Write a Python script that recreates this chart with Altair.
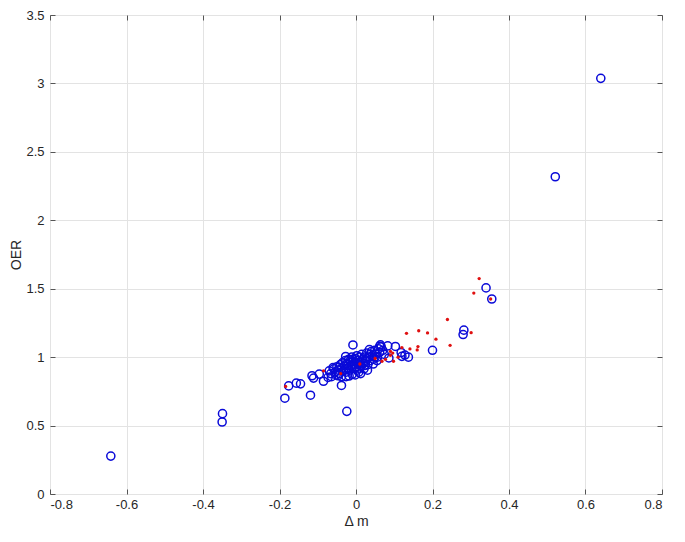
import altair as alt
import pandas as pd

# Blue open circles (Δm, OER)
blue_dm = [-0.641, -0.349, -0.350, -0.186, -0.176, -0.156, -0.145, -0.119, -0.115, -0.111,
           -0.096, -0.085, -0.073, -0.064, -0.060, -0.047, -0.038, -0.038, -0.026, -0.024,
           -0.008,
           -0.070, -0.066, -0.058, -0.054, -0.050, -0.046, -0.043, -0.041, -0.038, -0.035,
           -0.033, -0.030, -0.028, -0.026, -0.024, -0.021, -0.019, -0.017, -0.015, -0.013,
           -0.011, -0.010, -0.008, -0.006, -0.004, -0.002, 0.000, 0.001, 0.002, 0.004,
           0.006, 0.007, 0.009, 0.011, 0.013, 0.015, 0.017, 0.019, 0.021, 0.023,
           0.026, 0.028, 0.031, 0.034, 0.037, 0.040, 0.043, 0.046, 0.049, 0.052,
           0.056, 0.059, 0.062, 0.066, 0.070, 0.074, -0.002, -0.018, 0.012, 0.030,
           0.045, 0.055,
           -0.052, -0.044, -0.031, -0.020, -0.009, 0.003, 0.016, 0.027, 0.038, 0.050,
           0.008, -0.014, 0.024, 0.035, -0.027, 0.064,
           0.062, 0.083, 0.103, 0.086, 0.118, 0.120, 0.137, 0.128, 0.200, 0.282,
           0.280, 0.340, 0.355, 0.521, 0.640]
blue_oer = [0.277, 0.587, 0.526, 0.700, 0.790, 0.810, 0.805, 0.722, 0.864, 0.847,
            0.876, 0.824, 0.852, 0.857, 0.923, 0.864, 0.857, 0.793, 0.857, 0.604,
            1.089,
            0.900, 0.880, 0.915, 0.893, 0.930, 0.905, 0.880, 0.945, 0.915, 0.960,
            0.898, 0.935, 0.975, 0.890, 0.950, 0.920, 0.985, 0.905, 0.960, 0.935,
            1.000, 0.875, 0.970, 0.945, 0.915, 0.990, 0.960, 0.930, 1.010, 0.975,
            0.950, 0.890, 1.000, 0.965, 0.935, 1.020, 0.985, 0.955, 0.915, 1.000,
            0.970, 1.030, 0.945, 1.000, 0.975, 1.040, 1.010, 0.985, 1.050, 1.020,
            1.000, 1.060, 1.035, 1.075, 1.050, 1.020, 0.870, 0.862, 0.880, 0.905,
            0.950, 0.975,
            0.870, 0.925, 0.910, 0.945, 0.985, 0.905, 0.960, 0.990, 1.020, 1.000,
            0.920, 0.980, 0.940, 1.055, 1.005, 1.090,
            1.080, 1.082, 1.078, 0.994, 1.034, 1.006, 1.000, 1.015, 1.050, 1.197,
            1.165, 1.506, 1.425, 2.318, 3.037]

# Red dots (Δm, OER)
red_dm = [-0.184, -0.085, -0.040, 0.010, 0.050, 0.068, 0.077, 0.090, 0.098, 0.096,
          0.090, 0.110, 0.120, 0.132, 0.164, 0.187, 0.209, 0.141, 0.162, 0.160,
          0.246, 0.239, 0.301, 0.308, 0.322, 0.352]
red_oer = [0.786, 0.900, 0.880, 0.950, 0.990, 0.970, 0.984, 1.013, 0.970, 1.030,
           1.042, 1.000, 1.070, 1.174, 1.193, 1.177, 1.131, 1.060, 1.077, 1.053,
           1.086, 1.275, 1.179, 1.468, 1.574, 1.425]

x_ticks = [-0.8, -0.6, -0.4, -0.2, 0, 0.2, 0.4, 0.6, 0.8]
y_ticks = [0, 0.5, 1, 1.5, 2, 2.5, 3, 3.5]

blue = pd.DataFrame({"dm": blue_dm, "oer": blue_oer})
red = pd.DataFrame({"dm": red_dm, "oer": red_oer})

xs = alt.Scale(domain=[-0.8, 0.8], nice=False, zero=False)
ys = alt.Scale(domain=[0, 3.5], nice=False, zero=False)

lab = "datum.value < 0 ? '-' + format(-datum.value, '~g') : format(datum.value, '~g')"
FONT = "Liberation Sans"
TXT = "#262626"
TICK = "#555555"

# main axes: labels + grid
ax_main_x = alt.Axis(orient="bottom", values=x_ticks, grid=True, ticks=False, domain=False,
                     labelExpr=lab, title="Δ m", labelPadding=4, titlePadding=3,
                     labelFont=FONT, labelFontSize=13, labelColor=TXT,
                     titleFont=FONT, titleFontSize=14, titleColor=TXT, titleFontWeight="normal",
                     gridColor="#e3e3e3", gridWidth=1)
ax_main_y = alt.Axis(orient="left", values=y_ticks, grid=True, ticks=False, domain=False,
                     labelExpr=lab, title="OER", labelPadding=6, titlePadding=2,
                     labelFont=FONT, labelFontSize=13, labelColor=TXT,
                     titleFont=FONT, titleFontSize=14, titleColor=TXT, titleFontWeight="normal",
                     gridColor="#e3e3e3", gridWidth=1)


def tick_axis(orient, vals):
    return alt.Axis(orient=orient, values=vals, grid=False, ticks=True, tickSize=5,
                    tickColor=TICK, tickWidth=1, domain=False, labels=False, title=None,
                    offset=-5)


base_layer = alt.Chart(red).mark_point(opacity=0).encode(
    x=alt.X("dm:Q", scale=xs, axis=ax_main_x),
    y=alt.Y("oer:Q", scale=ys, axis=ax_main_y),
)

blue_layer = alt.Chart(blue).mark_point(
    shape="circle", filled=False, color="#0a0ad8", size=66, strokeWidth=1.5, opacity=1
).encode(
    x=alt.X("dm:Q", scale=xs, axis=tick_axis("bottom", x_ticks)),
    y=alt.Y("oer:Q", scale=ys, axis=tick_axis("left", y_ticks)),
)

red_layer = alt.Chart(red).mark_point(
    shape="circle", filled=True, color="#e01010", size=11, opacity=1
).encode(
    x=alt.X("dm:Q", scale=xs, axis=tick_axis("top", x_ticks)),
    y=alt.Y("oer:Q", scale=ys, axis=tick_axis("right", y_ticks)),
)

chart = alt.layer(base_layer, blue_layer, red_layer).resolve_axis(
    x="independent", y="independent"
).properties(
    width=612, height=479,
    padding={"left": 42, "top": 7, "right": 15, "bottom": 39},
    autosize=alt.AutoSizeParams(type="none"),
    background="white",
).configure_view(stroke="#8c8c8c", strokeWidth=1)

chart.save("out.html", embed_options={"renderer": "svg", "actions": False})
